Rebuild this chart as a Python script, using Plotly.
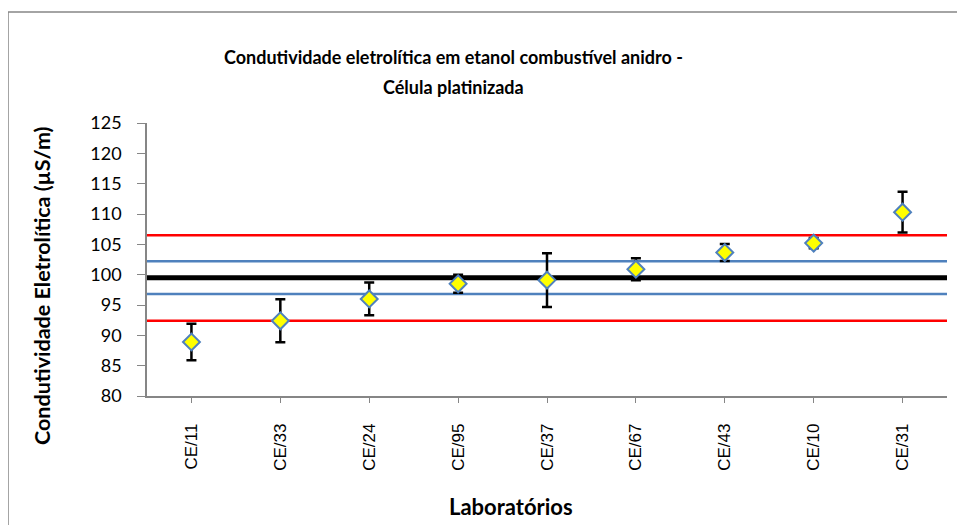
import plotly.graph_objects as go

labs = ["CE/11", "CE/33", "CE/24", "CE/95", "CE/37", "CE/67", "CE/43", "CE/10", "CE/31"]
valores = [88.9, 92.4, 96.0, 98.5, 99.1, 100.9, 103.65, 105.2, 110.3]
incerteza = [3.0, 3.55, 2.7, 1.5, 4.45, 1.8, 1.4, 0.85, 3.35]

# valor designado, limites azuis e vermelhos
vd = 99.5
lim_azul = [96.8, 102.2]
lim_verm = [92.4, 106.5]

xs = list(range(len(labs)))
x_ext = [-0.5, len(labs) - 0.5]

fig = go.Figure()

for v in lim_verm:
    fig.add_trace(go.Scatter(x=x_ext, y=[v, v], mode="lines",
                             line=dict(color="#FF0000", width=2.5), hoverinfo="skip"))
for v in lim_azul:
    fig.add_trace(go.Scatter(x=x_ext, y=[v, v], mode="lines",
                             line=dict(color="#4F81BD", width=2.5), hoverinfo="skip"))
fig.add_trace(go.Scatter(x=x_ext, y=[vd, vd], mode="lines",
                         line=dict(color="black", width=5), hoverinfo="skip"))

fig.add_trace(go.Scatter(x=xs, y=valores, mode="markers",
                         marker=dict(symbol="diamond", size=13, color="#FFFF00",
                                     line=dict(color="#4F81BD", width=2)),
                         error_y=dict(type="data", array=incerteza, color="black",
                                      thickness=2.5, width=5)))

fnt = "Lato, 'Open Sans', sans-serif"

# a pagina tem 8px de margem no body, por isso l/t menores
fig.update_layout(
    width=965, height=525,
    margin=dict(l=139, r=26, t=115, b=137),
    paper_bgcolor="white", plot_bgcolor="white",
    showlegend=False,
    font=dict(family=fnt, color="black"),
)

fig.update_xaxes(range=x_ext, tickvals=xs, ticktext=labs, tickangle=-90,
                 showgrid=False, zeroline=False, showline=True,
                 linecolor="#868686", linewidth=1.5,
                 ticks="outside", ticklen=5, tickcolor="#868686",
                 ticklabelstandoff=14,
                 tickfont=dict(family="'Liberation Sans', Arial", size=17, color="black"))
fig.update_yaxes(range=[80, 125], dtick=5, tick0=80,
                 showgrid=False, zeroline=False, showline=True,
                 linecolor="#868686", linewidth=1.5,
                 ticks="outside", ticklen=8, tickcolor="#868686",
                 ticklabelstandoff=12,
                 tickfont=dict(family=fnt, size=18, color="black"))

pw, ph = 800, 273
def px(x):
    return (x - 147) / pw
def py(y):
    return (396 - y) / ph

# moldura do grafico (so esquerda e topo aparecem)
fig.add_shape(type="line", xref="paper", yref="paper",
              x0=px(8), x1=px(8), y0=py(545), y1=py(12),
              line=dict(color="#868686", width=1.5))
fig.add_shape(type="line", xref="paper", yref="paper",
              x0=px(8), x1=px(1000), y0=py(12), y1=py(12),
              line=dict(color="#868686", width=1.5))

def rotulo(x, y, txt, size, ang=0):
    fig.add_annotation(x=px(x), y=py(y), xref="paper", yref="paper", showarrow=False,
                       xanchor="center", yanchor="middle", text=txt, textangle=ang,
                       font=dict(family=fnt, size=size))

rotulo(453, 57, "<b>Condutividade eletrolítica em etanol combustível anidro -</b>", 18)
rotulo(453, 87, "<b>Célula platinizada</b>", 18)
rotulo(511, 506, "<b>Laboratórios</b>", 22)
rotulo(42, 286, "<b>Condutividade Eletrolítica (µS/m)</b>", 21.5, -90)

fig.write_html("out.html")
